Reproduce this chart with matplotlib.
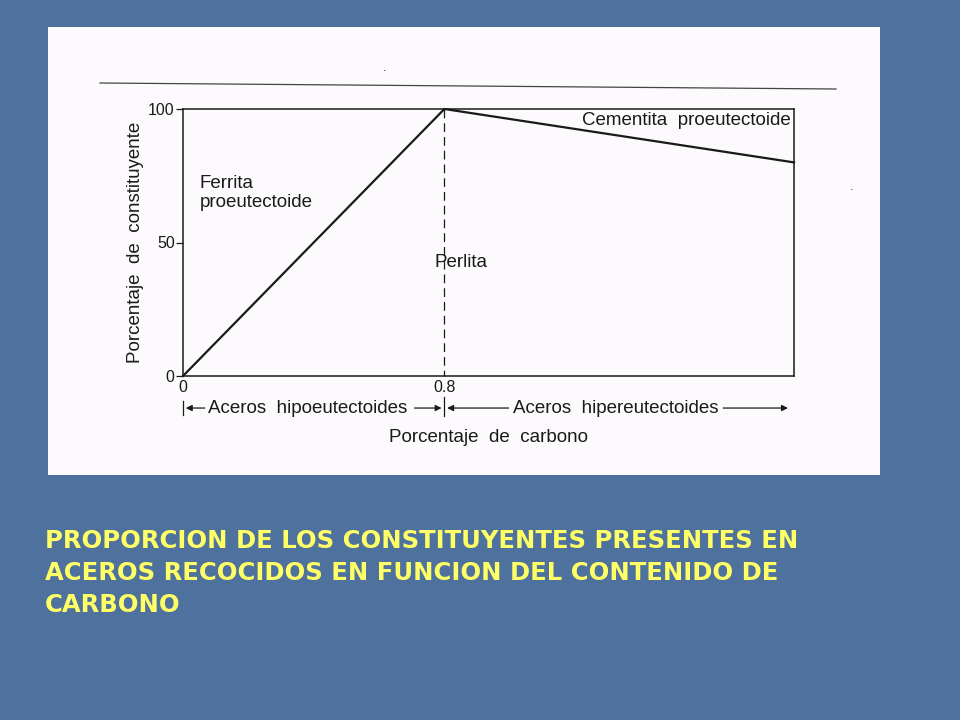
import matplotlib.pyplot as plt
from matplotlib.lines import Line2D
from matplotlib.patches import Rectangle

carbono = [0, 0.8, 1.87]
porcentaje = [0, 100, 80]
yticks = [0, 50, 100]
xticks = [0, 0.8]
xtick_labels = ['0', '0.8']
titulo = ['PROPORCION DE LOS CONSTITUYENTES PRESENTES EN',
          'ACEROS RECOCIDOS EN FUNCION DEL CONTENIDO DE',
          'CARBONO']

plt.rcParams['font.family'] = ['Liberation Sans', 'DejaVu Sans']
tinta = '#1a1a1a'
fs = 13.5

fig = plt.figure(figsize=(9.6, 7.2), dpi=100)
fig.patch.set_facecolor('#4e719d')

# hoja blanca escaneada
fig.patches.append(Rectangle((48 / 960, 1 - 475 / 720), 832 / 960, 448 / 720,
                             transform=fig.transFigure, facecolor='#fdfafd',
                             edgecolor='none', zorder=-2))
fig.lines.append(Line2D([100 / 960, 836 / 960], [1 - 83 / 720, 1 - 89 / 720],
                        transform=fig.transFigure, color='#444444', lw=0.9, zorder=-1))
fig.text(385 / 960, 1 - 71 / 720, '.', color='#333333', fontsize=9, ha='center')
fig.text(852 / 960, 1 - 190 / 720, '.', color='#333333', fontsize=9, ha='center')

ax = fig.add_axes([183 / 960, 1 - 376 / 720, 611 / 960, 267 / 720])
ax.set_facecolor('none')
ax.plot(carbono, porcentaje, color=tinta, lw=1.6, clip_on=False)
ax.set_xlim(0, carbono[-1])
ax.set_ylim(0, 100)
for s in ax.spines.values():
    s.set_color(tinta)
    s.set_linewidth(1.1)

ax.set_yticks(yticks)
ax.set_yticklabels([str(v) for v in yticks], fontsize=11.5, color=tinta)
ax.tick_params(axis='y', length=5, width=0.9, color=tinta, pad=1)
ax.set_xticks(xticks)
ax.set_xticklabels(xtick_labels, fontsize=11.5, color=tinta)
ax.tick_params(axis='x', length=0, pad=3)

ax.set_ylabel('Porcentaje  de  constituyente', fontsize=fs, color=tinta, labelpad=3)
ax.set_xlabel('Porcentaje  de  carbono', fontsize=fs, color=tinta, labelpad=24)

# linea discontinua en el eutectoide (cortada en la etiqueta 0.8)
ax.plot([0.8, 0.8], [100, 0], color=tinta, lw=0.9, ls=(0, (7, 4)), clip_on=False)
ax.plot([0.8, 0.8], [-8, -15], color=tinta, lw=0.9, clip_on=False)

# rotulos de las regiones
ax.text(0.05, 68.5, 'Ferrita\nproeutectoide', fontsize=fs, color=tinta,
        va='center', linespacing=1.15)
ax.text(0.77, 42.5, 'Perlita', fontsize=fs, color=tinta, va='center')
ax.text(1.86, 95.8, 'Cementita  proeutectoide', fontsize=fs, color=tinta,
        ha='right', va='center')

# flechas de los tipos de acero
yf = -12
flecha = dict(arrowstyle='-|>', color=tinta, lw=0.9, mutation_scale=9)
ax.plot([0, 0], [yf - 2.5, yf + 2.5], color=tinta, lw=0.9, clip_on=False)
ax.annotate('', xy=(0.0, yf), xytext=(0.075, yf), arrowprops=flecha, annotation_clip=False)
ax.text(0.077, yf, 'Aceros  hipoeutectoides', fontsize=fs, color=tinta,
        va='center', ha='left')
ax.annotate('', xy=(0.8, yf), xytext=(0.7, yf), arrowprops=flecha, annotation_clip=False)
ax.annotate('', xy=(0.8, yf), xytext=(1.005, yf), arrowprops=flecha, annotation_clip=False)
ax.text(1.01, yf, 'Aceros  hipereutectoides', fontsize=fs, color=tinta,
        va='center', ha='left')
ax.annotate('', xy=(1.86, yf), xytext=(1.645, yf), arrowprops=flecha, annotation_clip=False)

# titulo en amarillo
for i, linea in enumerate(titulo):
    fig.text(45 / 960, 1 - (541 + i * 32) / 720, linea, color='#ffff66',
             fontsize=17.5, fontweight='bold', family=['DejaVu Sans'],
             va='center', ha='left')

fig.savefig('out.png', dpi=100, facecolor=fig.get_facecolor())
